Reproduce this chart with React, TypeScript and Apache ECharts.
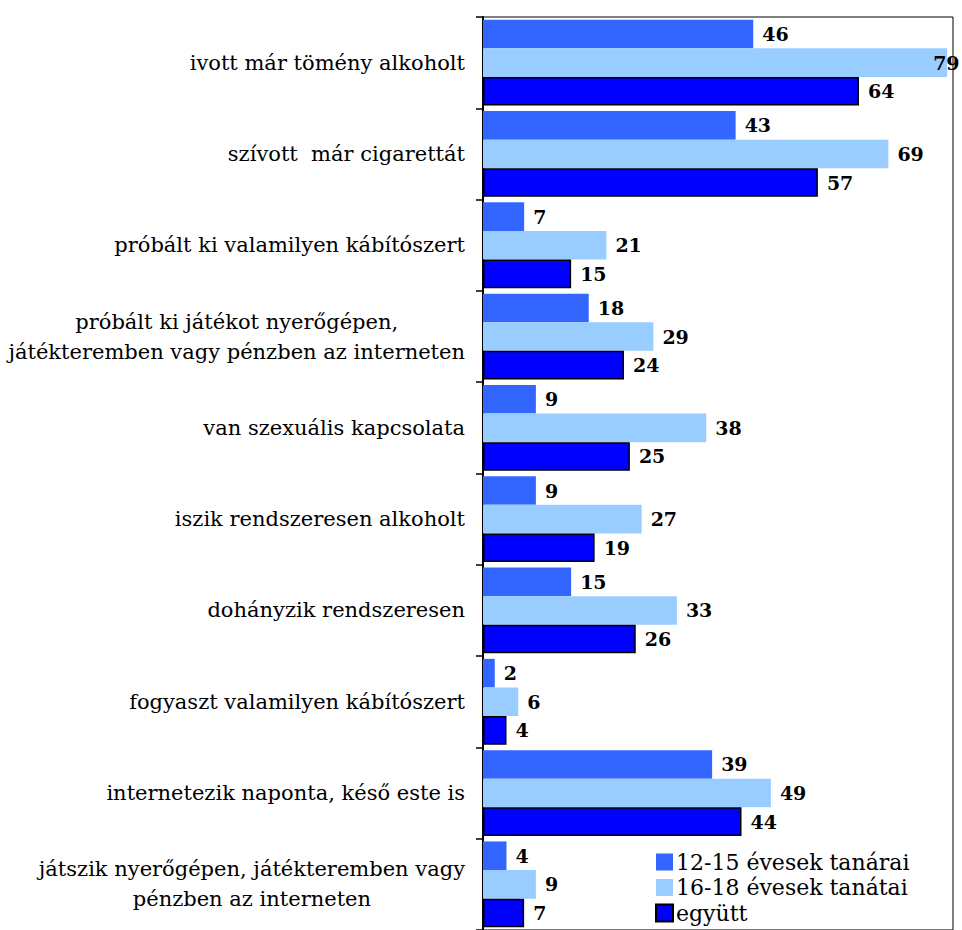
import React, { useEffect, useRef } from "react";
import * as echarts from "echarts";

const categories = [
  "ivott már tömény alkoholt",
  "szívott  már cigarettát",
  "próbált ki valamilyen kábítószert",
  "próbált ki játékot nyerőgépen,\njátékteremben vagy pénzben az interneten",
  "van szexuális kapcsolata",
  "iszik rendszeresen alkoholt",
  "dohányzik rendszeresen",
  "fogyaszt valamilyen kábítószert",
  "internetezik naponta, késő este is",
  "játszik nyerőgépen, játékteremben vagy\npénzben az interneten",
];

const seriesNames = ["12-15 évesek tanárai", "16-18 évesek tanátai", "együtt"];
const values1215 = [46, 43, 7, 18, 9, 9, 15, 2, 39, 4];
const values1618 = [79, 69, 21, 29, 38, 27, 33, 6, 49, 9];
const valuesAll = [64, 57, 15, 24, 25, 19, 26, 4, 44, 7];

const FONT = "DejaVu Serif";
const X_MAX = 80;

function buildData(vals: number[]) {
  return vals.map((v) =>
    v > 75 ? { value: v, label: { offset: [-23, 0] } } : v
  );
}

export default function App() {
  const ref = useRef<HTMLDivElement>(null);
  useEffect(() => {
    if (!ref.current) return;
    const chart = echarts.init(ref.current, undefined, { renderer: "svg" });
    const labelCommon = {
      show: true,
      position: "right" as const,
      distance: 9,
      fontFamily: FONT,
      fontWeight: "bold" as const,
      fontSize: 19,
      color: "#000",
    };
    chart.setOption({
      animation: false,
      backgroundColor: "#fff",
      grid: {
        left: 483,
        right: 9,
        top: 17,
        bottom: -6,
        show: true,
        borderColor: "#000",
        borderWidth: 1,
        backgroundColor: "transparent",
      },
      legend: {
        orient: "vertical",
        left: 655,
        top: 851,
        height: 120,
        padding: 0,
        itemWidth: 17,
        itemHeight: 17,
        itemGap: 3.5,
        icon: "rect",
        textStyle: {
          fontFamily: FONT,
          fontSize: 22,
          color: "#000",
          lineHeight: 22,
          padding: [0, 0, 0, -2],
        },
        data: seriesNames,
      },
      xAxis: {
        type: "value",
        min: 0,
        max: X_MAX,
        show: false,
        splitLine: { show: false },
      },
      yAxis: {
        type: "category",
        inverse: true,
        data: categories,
        axisLine: { show: true, lineStyle: { color: "#000", width: 2 } },
        axisTick: { show: true, length: 7, lineStyle: { color: "#000", width: 1.5 } },
        axisLabel: {
          margin: 18,
          fontFamily: FONT,
          fontSize: 21,
          color: "#000",
          formatter: (val: string) =>
            val
              .split("\n")
              .map((l) => "{c|" + l + "}")
              .join("\n"),
          rich: {
            c: {
              align: "center",
              fontFamily: FONT,
              fontSize: 21,
              color: "#000",
              lineHeight: 30,
            },
          },
        },
      },
      series: [
        {
          name: seriesNames[0],
          type: "bar",
          data: buildData(values1215),
          barGap: "0%",
          barCategoryGap: "6%",
          itemStyle: { color: "#3366FF" },
          label: labelCommon,
        },
        {
          name: seriesNames[1],
          type: "bar",
          data: buildData(values1618),
          barGap: "0%",
          barCategoryGap: "6%",
          itemStyle: { color: "#99CCFF" },
          label: labelCommon,
        },
        {
          name: seriesNames[2],
          type: "bar",
          data: buildData(valuesAll),
          barGap: "0%",
          barCategoryGap: "6%",
          itemStyle: { color: "#0000FF", borderColor: "#000", borderWidth: 1.5 },
          label: labelCommon,
        },
      ],
    });
    return () => chart.dispose();
  }, []);
  return (
    <div
      ref={ref}
      style={{ position: "absolute", left: 0, top: 0, width: 962, height: 930 }}
    />
  );
}
